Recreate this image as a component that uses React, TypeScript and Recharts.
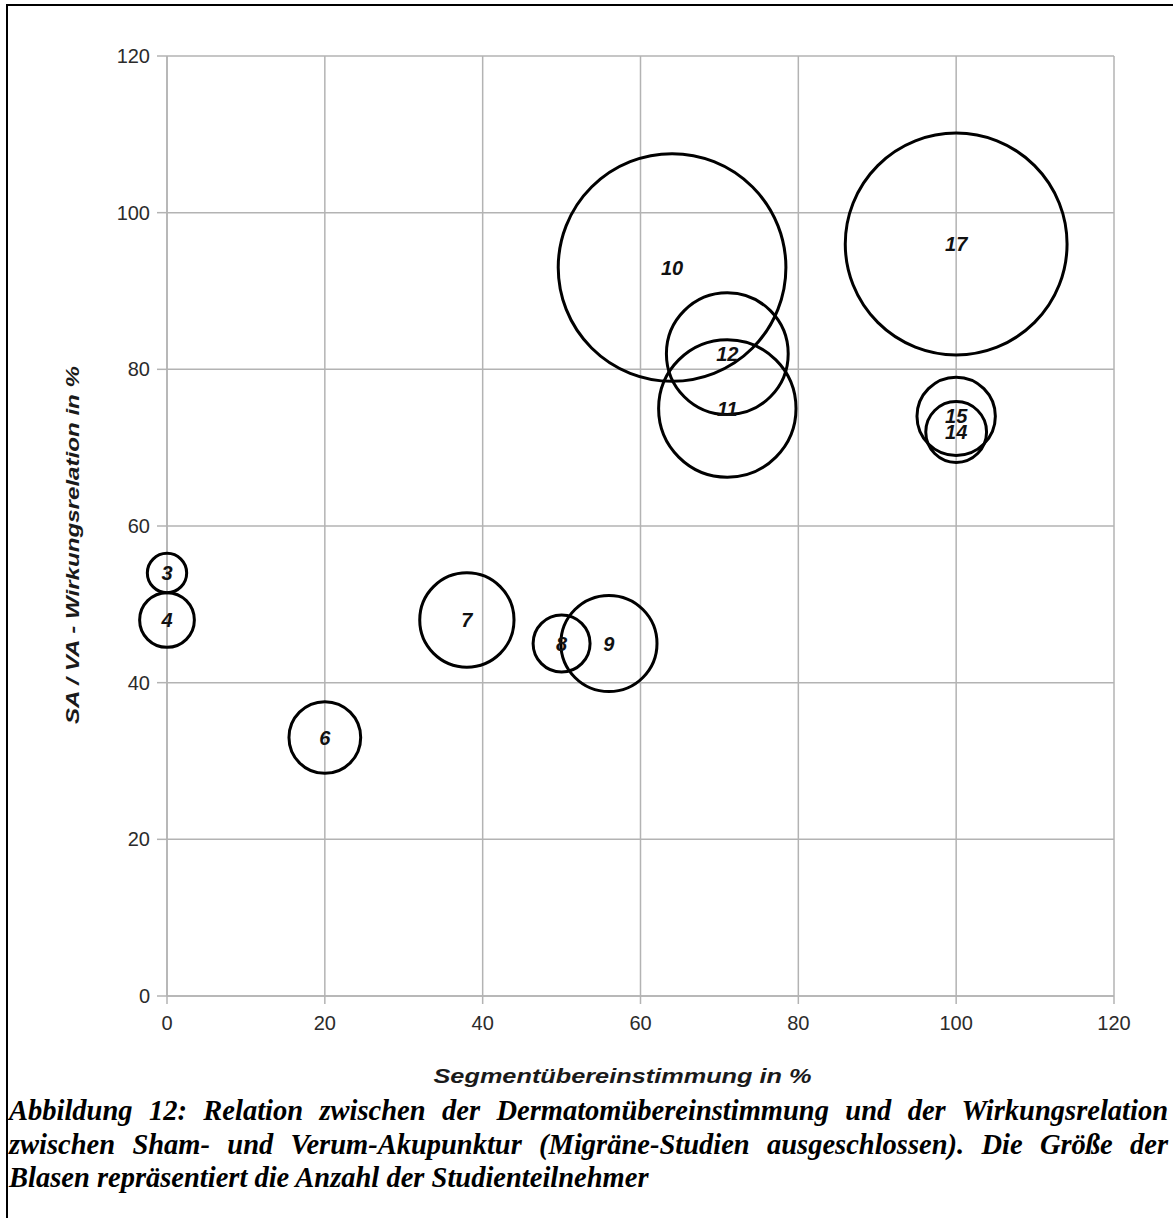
import React from "react";
import {
  ScatterChart,
  Scatter,
  XAxis,
  YAxis,
  ZAxis,
  CartesianGrid,
  LabelList,
} from "recharts";

// Study number, dermatome/segment agreement (%), SA/VA effect ratio (%), participants
const studyLabels = ["3", "4", "6", "7", "8", "9", "10", "11", "12", "14", "15", "17"];
const segmentMatch = [0, 0, 20, 38, 50, 56, 64, 71, 71, 100, 100, 100];
const effectRatio = [54, 48, 33, 48, 45, 45, 93, 75, 82, 72, 74, 96];
const participants = [31, 60, 103, 178, 65, 185, 1038, 378, 297, 74, 123, 985];

const axisTicks = [0, 20, 40, 60, 80, 100, 120];

const xTitle = "Segmentübereinstimmung in %";
const yTitle = "SA / VA - Wirkungsrelation in %";
const captionLines = [
  "Abbildung 12: Relation zwischen der Dermatomübereinstimmung und der Wirkungsrelation",
  "zwischen Sham- und Verum-Akupunktur (Migräne-Studien ausgeschlossen). Die Größe der",
  "Blasen repräsentiert die Anzahl der Studienteilnehmer",
];

const data = studyLabels.map((label, i) => ({
  label,
  x: segmentMatch[i],
  y: effectRatio[i],
  z: participants[i],
}));

const GRID = "#b3b3b3";
const SANS = "'Liberation Sans', Arial, sans-serif";
const tickStyle = { fontFamily: SANS, fontSize: 20, fill: "#2b2b2b" };

// Hollow bubble whose radius follows the z-axis area scale
const Bubble = (props: any) => {
  const { cx, cy, width } = props;
  if (cx == null || cy == null) return null;
  return <circle cx={cx} cy={cy} r={width / 2} fill="none" stroke="#000" strokeWidth={3} />;
};

// Axis titles, stretched to the width used in the figure
const XTitle = (props: any) => {
  const vb = props.viewBox || {};
  const cx = vb.x + vb.width / 2 - 18;
  const y = vb.y + 87;
  return (
    <text
      x={cx}
      y={y}
      textAnchor="middle"
      textLength={378}
      lengthAdjust="spacingAndGlyphs"
      fontFamily={SANS}
      fontWeight="bold"
      fontStyle="italic"
      fontSize={20}
      fill="#1a1a1a"
    >
      {xTitle}
    </text>
  );
};

const YTitle = (props: any) => {
  const vb = props.viewBox || {};
  const x = vb.x + 39;
  const cy = vb.y + vb.height / 2 + 19;
  return (
    <text
      x={x}
      y={cy}
      transform={`rotate(-90 ${x} ${cy})`}
      textAnchor="middle"
      textLength={358}
      lengthAdjust="spacingAndGlyphs"
      fontFamily={SANS}
      fontWeight="bold"
      fontStyle="italic"
      fontSize={19}
      fill="#1a1a1a"
    >
      {yTitle}
    </text>
  );
};

export default function App() {
  return (
    <div style={{ position: "absolute", left: 0, top: 0, width: 1173, height: 1218, background: "#fff", overflow: "hidden" }}>
      <div
        style={{
          position: "absolute",
          left: 6,
          top: 4,
          width: 1167,
          height: 1214,
          borderLeft: "2px solid #000",
          borderTop: "2px solid #000",
          boxSizing: "border-box",
        }}
      />
      <div style={{ position: "absolute", left: 0, top: 0 }}>
        <ScatterChart width={1173} height={1090} margin={{ top: 56, right: 59, left: 40, bottom: 4 }}>
          <CartesianGrid stroke={GRID} strokeWidth={1.5} />
          <XAxis
            type="number"
            dataKey="x"
            domain={[0, 120]}
            ticks={axisTicks}
            interval={0}
            stroke={GRID}
            strokeWidth={1.5}
            tickSize={8}
            tickMargin={12}
            tick={tickStyle}
            height={90}
            label={<XTitle />}
          />
          <YAxis
            type="number"
            dataKey="y"
            domain={[0, 120]}
            ticks={axisTicks}
            interval={0}
            stroke={GRID}
            strokeWidth={1.5}
            tickSize={10}
            tickMargin={7}
            tick={tickStyle}
            width={127}
            label={<YTitle />}
          />
          <ZAxis type="number" dataKey="z" domain={[0, 1000]} range={[0, 40715]} scale="linear" />
          <Scatter data={data} shape={<Bubble />} isAnimationActive={false}>
            <LabelList
              dataKey="label"
              position="center"
              style={{ fontFamily: SANS, fontWeight: "bold", fontStyle: "italic", fontSize: 20, fill: "#111" }}
            />
          </Scatter>
        </ScatterChart>
      </div>
      <div
        style={{
          position: "absolute",
          left: 9,
          top: 1094,
          width: 1159,
          fontFamily: "'Liberation Serif', 'Times New Roman', serif",
          fontWeight: "bold",
          fontStyle: "italic",
          fontSize: 28.5,
          lineHeight: "33.5px",
          color: "#000",
        }}
      >
        {captionLines.map((line, i) => (
          <div
            key={i}
            style={{
              whiteSpace: "nowrap",
              textAlign: i < captionLines.length - 1 ? "justify" : "left",
              textAlignLast: i < captionLines.length - 1 ? "justify" : "left",
            }}
          >
            {line}
          </div>
        ))}
      </div>
    </div>
  );
}
